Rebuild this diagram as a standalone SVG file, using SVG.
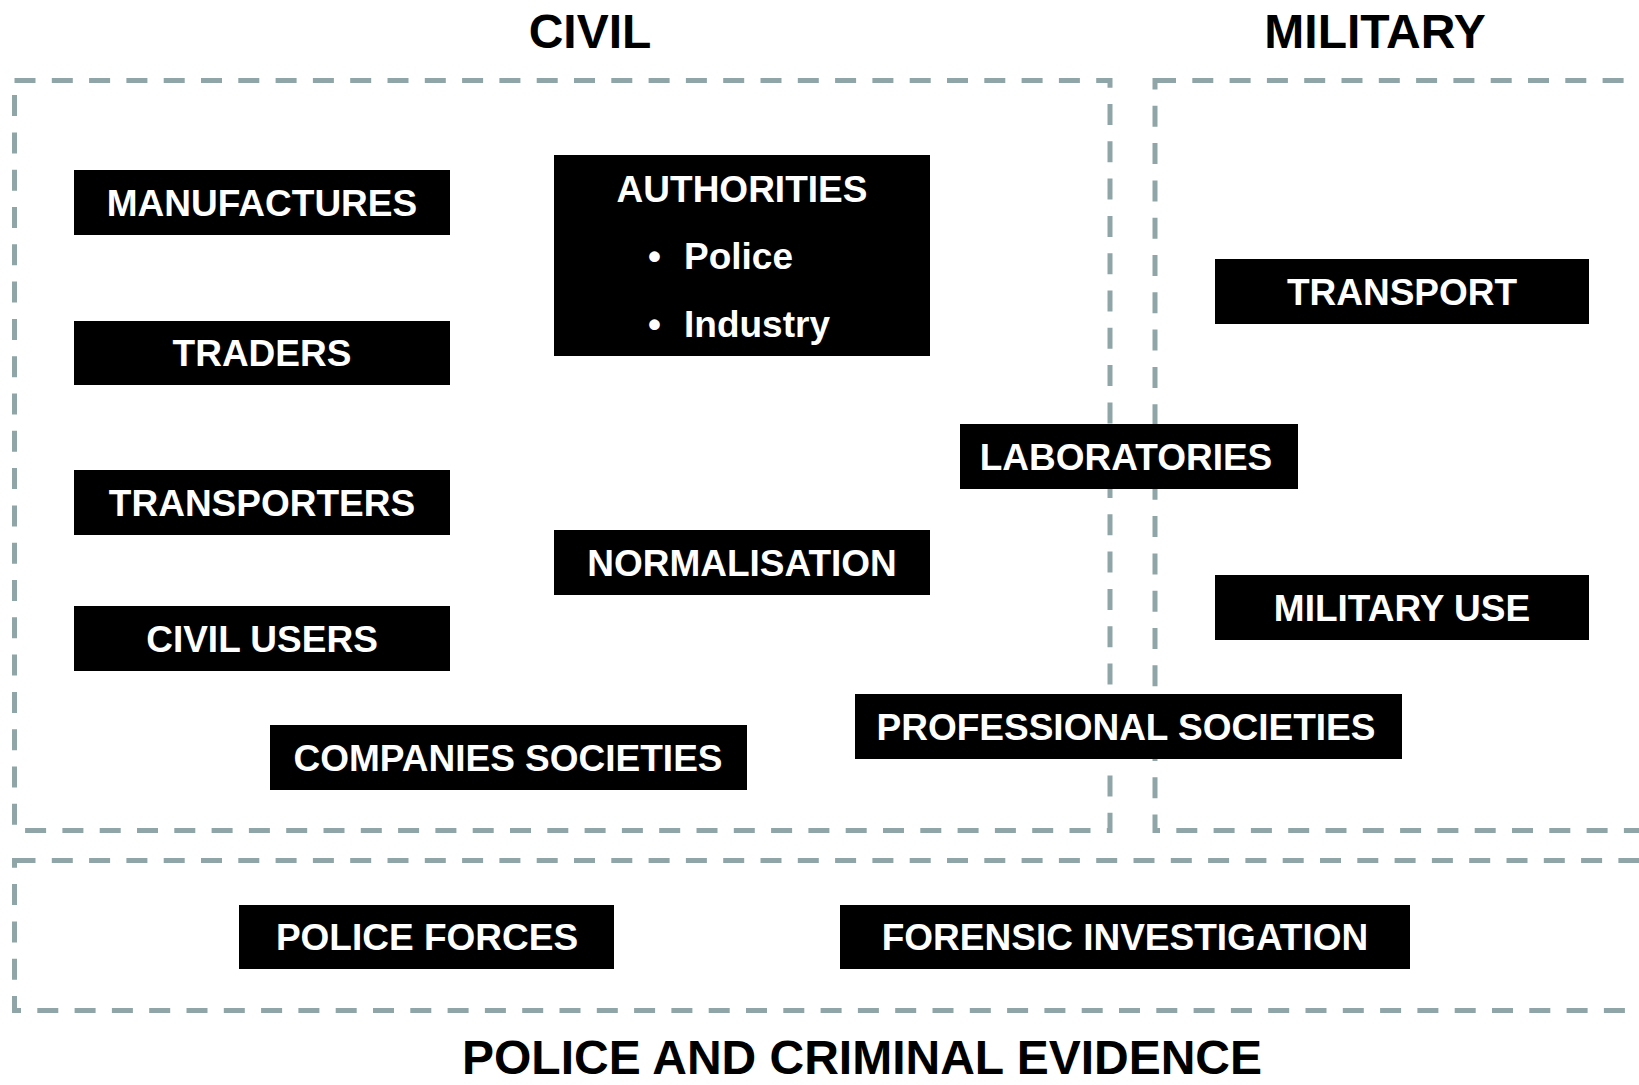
<svg xmlns="http://www.w3.org/2000/svg" width="1639" height="1085" viewBox="0 0 1639 1085">
<style>
.frame{fill:none;stroke:#8fa5a7;stroke-width:5;stroke-dasharray:21 16.3}
.box{fill:#000}
.lbl{fill:#fff;font-family:"Liberation Sans",Arial,sans-serif;font-weight:bold;font-size:37px;text-anchor:middle}
.blt{fill:#fff;font-family:"Liberation Sans",Arial,sans-serif;font-weight:bold;font-size:37px}
.title{fill:#000;font-family:"Liberation Sans",Arial,sans-serif;font-weight:bold;font-size:48px;text-anchor:middle}
</style>
<rect width="1639" height="1085" fill="#fff"/>
<g id="areas">
<rect id="civil-area" class="frame" x="14.5" y="80.5" width="1095.5" height="750"/>
<rect id="military-area" class="frame" x="1155" y="80.5" width="560" height="750"/>
<rect id="police-area" class="frame" x="14.5" y="860.5" width="1700" height="150"/>
</g>
<g id="titles">
<text class="title" x="590" y="48">CIVIL</text>
<text class="title" x="1375" y="48">MILITARY</text>
<text class="title" x="862" y="1074">POLICE AND CRIMINAL EVIDENCE</text>
</g>
<g id="connectors"></g>
<g id="manufactures"><rect class="box" x="74" y="170" width="376" height="65"/><text class="lbl" x="262" y="216">MANUFACTURES</text></g>
<g id="traders"><rect class="box" x="74" y="321" width="376" height="64"/><text class="lbl" x="262" y="366">TRADERS</text></g>
<g id="transporters"><rect class="box" x="74" y="470" width="376" height="65"/><text class="lbl" x="262" y="516">TRANSPORTERS</text></g>
<g id="civil-users"><rect class="box" x="74" y="606" width="376" height="65"/><text class="lbl" x="262" y="652">CIVIL USERS</text></g>
<g id="authorities"><rect class="box" x="554" y="155" width="376" height="201"/>
<text class="lbl" x="742" y="202">AUTHORITIES</text>
<text class="blt" x="648" y="269">•<tspan x="684">Police</tspan></text>
<text class="blt" x="648" y="337">•<tspan x="684">Industry</tspan></text>
</g>
<g id="normalisation"><rect class="box" x="554" y="530" width="376" height="65"/><text class="lbl" x="742" y="576">NORMALISATION</text></g>
<g id="companies-societies"><rect class="box" x="270" y="725" width="477" height="65"/><text class="lbl" x="508" y="771">COMPANIES SOCIETIES</text></g>
<g id="laboratories"><rect class="box" x="960" y="424" width="338" height="65"/><text class="lbl" x="1126" y="470">LABORATORIES</text></g>
<g id="professional-societies"><rect class="box" x="855" y="694" width="547" height="65"/><text class="lbl" x="1126" y="740">PROFESSIONAL SOCIETIES</text></g>
<g id="transport"><rect class="box" x="1215" y="259" width="374" height="65"/><text class="lbl" x="1402" y="305">TRANSPORT</text></g>
<g id="military-use"><rect class="box" x="1215" y="575" width="374" height="65"/><text class="lbl" x="1402" y="621">MILITARY USE</text></g>
<g id="police-forces"><rect class="box" x="239" y="905" width="375" height="64"/><text class="lbl" x="427" y="950">POLICE FORCES</text></g>
<g id="forensic-investigation"><rect class="box" x="840" y="905" width="570" height="64"/><text class="lbl" x="1125" y="950">FORENSIC INVESTIGATION</text></g>
</svg>
